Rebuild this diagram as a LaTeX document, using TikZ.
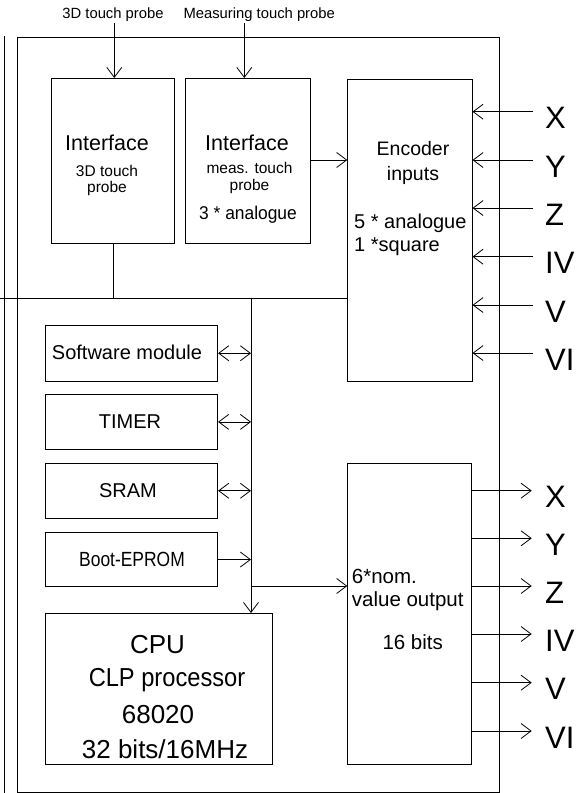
\documentclass[tikz,border=0pt]{standalone}
\usepackage{fontspec}
\setmainfont{Liberation Sans}
\usetikzlibrary{arrows.meta}
\newcommand{\fsz}[1]{\fontsize{#1}{#1}\selectfont}
\begin{document}
\begin{tikzpicture}[x=1pt,y=-1pt,
  box/.style={draw, line width=0.8pt, inner sep=0, anchor=north west},
  ln/.style={line width=0.8pt},
  arr/.style={ln, -{Straight Barb[length=10pt,width=15pt,line width=0.8pt]}},
  darr/.style={ln, {Straight Barb[length=10pt,width=15pt,line width=0.8pt]}-{Straight Barb[length=10pt,width=15pt,line width=0.8pt]}},
  txt/.style={inner sep=0, align=center},
]
\useasboundingbox (0,0) rectangle (583,793);
% boxes
\node[box, minimum width=482pt, minimum height=755pt] (outer) at (17,37) {};
\node[box, minimum width=123.6pt, minimum height=165.3pt] (int1) at (50.7,78) {};
\node[box, minimum width=124.7pt, minimum height=165.3pt] (int2) at (185.3,78) {};
\node[box, minimum width=124.4pt, minimum height=301.7pt] (enc) at (347.3,79) {};
\node[box, minimum width=172.3pt, minimum height=55.7pt] (sw) at (45,325) {};
\node[box, minimum width=172.3pt, minimum height=55pt] (timer) at (45,394) {};
\node[box, minimum width=172.3pt, minimum height=54.7pt] (sram) at (45,463) {};
\node[box, minimum width=172.3pt, minimum height=53.7pt] (boot) at (45,532.3) {};
\node[box, minimum width=226.7pt, minimum height=151.3pt] (cpu) at (45,613) {};
\node[box, minimum width=123.7pt, minimum height=300.7pt] (out) at (347.3,463.3) {};
% left edge line
\coordinate (lt) at (4,36);
\coordinate (lb) at (4,793);
\draw[ln] (lt) -- (lb);
% bus
\coordinate (busL) at (0,298);
\coordinate (busT) at (251,298);
\draw[ln] (busL) -- (busL -| enc.west);
\draw[ln] (int1.south) -- (int1.south |- busL);
\draw[arr] (busT) -- (busT |- cpu.north);
% top probes
\node[txt, font=\fsz{14.8}] (p3d) at (113,14.5) {3D touch probe};
\node[txt, font=\fsz{14.8}] (pmeas) at (259.2,14.5) {Measuring touch probe};
\coordinate (a1) at (114.3,23);
\coordinate (a2) at (244.3,23);
\draw[arr] (a1) -- (a1 |- int1.north);
\draw[arr] (a2) -- (a2 |- int2.north);
% int2 -> enc
\coordinate (y160) at (0,160);
\draw[arr] (int2.east |- y160) -- (enc.west |- y160);
% module arrows
\draw[darr] (sw.east) -- (sw.east -| busT);
\draw[darr] (timer.east) -- (timer.east -| busT);
\draw[darr] (sram.east) -- (sram.east -| busT);
\draw[arr] (boot.east) -- (boot.east -| busT);
\coordinate (j) at (251,586);
\draw[arr] (j) -- (j -| out.west);
% inputs
\foreach \yy/\lab/\n in {111.7/X/1,160/Y/2,208/Z/3,256.7/IV/4,305/V/5,353/VI/6}{
  \coordinate (in\n) at (533,\yy);
  \draw[arr] (in\n) -- (in\n -| enc.east);
  \node[txt, anchor=west, font=\fsz{31}] (inl\n) at (545,\yy+6.5) {\lab};
}
% outputs
\foreach \yy/\lab/\n in {490.7/X/1,538.3/Y/2,586/Z/3,634/IV/4,682.7/V/5,731/VI/6}{
  \coordinate (o\n) at (531.7,\yy);
  \draw[arr] (o\n -| out.east) -- (o\n);
  \node[txt, anchor=west, font=\fsz{31}] (outl\n) at (545,\yy+6.5) {\lab};
}
% texts
\node[txt, font=\fsz{21.5}] (t1a) at (107,143) {Interface};
\node[txt, font=\fsz{15.5}] (t1b) at (107,171) {3D touch};
\node[txt, font=\fsz{15.5}] (t1c) at (107,188) {probe};
\node[txt, font=\fsz{21.5}] (t2a) at (247,143) {Interface};
\node[txt, font=\fsz{15.5}] (t2b) at (249.5,168) {meas. touch};
\node[txt, font=\fsz{15.5}] (t2c) at (249.5,186) {probe};
\node[txt, font=\fsz{18.5}] (t2d) at (248,215) {\scalebox{0.94}[1]{3 * analogue}};
\node[txt, font=\fsz{19.5}] (e1) at (413,149) {Encoder};
\node[txt, font=\fsz{19.5}] (e2) at (413,175) {inputs};
\node[txt, font=\fsz{20}, anchor=west] (e3) at (354,223) {5 * analogue};
\node[txt, font=\fsz{20}, anchor=west] (e4) at (354,247) {1 *square};
\node[txt, font=\fsz{20}] (tsw) at (127,352) {Software module};
\node[txt, font=\fsz{20}] (ttimer) at (130,422) {TIMER};
\node[txt, font=\fsz{20}] (tsram) at (128,490.7) {SRAM};
\node[txt, font=\fsz{20.5}] (tboot) at (132,559) {\scalebox{0.85}[1]{Boot-EPROM}};
\node[txt, font=\fsz{26}] (c1) at (157.5,645) {CPU};
\node[txt, font=\fsz{26}] (c2) at (167,680) {\scalebox{0.91}[1]{CLP processor}};
\node[txt, font=\fsz{26}] (c3) at (158,715) {68020};
\node[txt, font=\fsz{26}] (c4) at (165,749) {32 bits/16MHz};
\node[txt, font=\fsz{20.5}, anchor=west] (v1) at (351.7,576) {6*nom.};
\node[txt, font=\fsz{20.5}, anchor=west] (v2) at (351.7,600.7) {value output};
\node[txt, font=\fsz{20.5}] (v3) at (412.7,641.7) {16 bits};
\end{tikzpicture}
\end{document}
